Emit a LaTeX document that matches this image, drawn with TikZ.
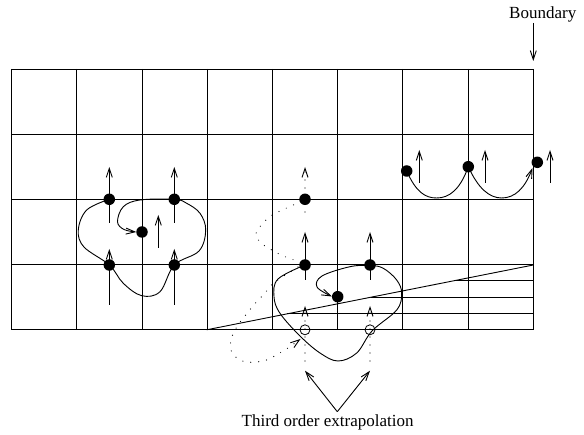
\documentclass[tikz,border=0pt]{standalone}
\usepackage{fontspec}
\setmainfont{Liberation Serif}
\usetikzlibrary{arrows.meta}
\tikzset{
  x=1pt, y=-1pt,
  ln/.style={line width=0.9pt},
  dotnode/.style={circle, fill=black, inner sep=0pt, minimum size=11.5pt},
  opennode/.style={circle, draw=black, line width=0.8pt, inner sep=0pt, minimum size=10pt},
  tip/.style={-{Straight Barb[length=9pt,width=6pt,line width=0.9pt]}},
  dotline/.style={line width=1.2pt, line cap=round, dash pattern=on 0pt off 8pt},
  lbl/.style={font=\fontsize{17}{20}\selectfont, inner sep=0pt},
}
\begin{document}
\begin{tikzpicture}
\useasboundingbox (0,0) rectangle (584,435);
% grid
\foreach \i in {0,...,8}{
  \draw[ln] ({11.7+65.2*\i},69) -- ({11.7+65.2*\i},329.8);
}
\foreach \j in {0,...,4}{
  \draw[ln] (11.7,{69+65.2*\j}) -- (533.3,{69+65.2*\j});
}
% boundary diagonal and refinement lines
\coordinate (dA) at (206.7,329.8);
\coordinate (dB) at (533.3,265);
\draw[ln] (dA) -- (dB);
\coordinate (h1) at (456,280.8);  \coordinate (h1e) at (533.3,280.8);
\coordinate (h2) at (370.5,297.3); \coordinate (h2e) at (533.3,297.3);
\coordinate (h3) at (287.3,313.8); \coordinate (h3e) at (533.3,313.8);
\draw[ln] (h1) -- (h1e);
\draw[ln] (h2) -- (h2e);
\draw[ln] (h3) -- (h3e);

% ---- left group ----
\node[dotnode] (L1) at (109.3,199.3) {};
\node[dotnode] (L2) at (174.3,199.3) {};
\node[dotnode] (L3) at (142,232) {};
\node[dotnode] (L4) at (109.3,265) {};
\node[dotnode] (L5) at (174.3,265) {};
\coordinate (la1s) at (109.3,223); \coordinate (la1e) at (109.3,167);
\coordinate (la2s) at (174.3,223); \coordinate (la2e) at (174.3,167);
\coordinate (la3s) at (158.3,248); \coordinate (la3e) at (158.3,215);
\coordinate (la4s) at (109.3,305); \coordinate (la4e) at (109.3,249);
\coordinate (la5s) at (174.3,305); \coordinate (la5e) at (174.3,249);
\foreach \a in {la1,la2,la3,la4,la5}{ \draw[ln,tip] (\a s) -- (\a e); }
\draw[ln,tip] plot[smooth, tension=0.6] coordinates {
 (109.3,199.3) (86.7,210) (78.3,230) (84,247) (109.3,265) (123.3,283.3)
 (141.7,295.7) (160,291.7) (174.3,265) (199,251) (205.7,230) (200,213.3)
 (186.7,203.3) (174.3,199.3) (140,200) (123.3,206.7) (117.5,221.7) (124,229.5) (136.3,232)};

% ---- middle group ----
\node[dotnode] (M1) at (305,199.3) {};
\node[dotnode] (M2) at (305,265) {};
\node[dotnode] (M3) at (370,265) {};
\node[dotnode] (M4) at (337.7,296.7) {};
\node[opennode] (O1) at (305,329.8) {};
\node[opennode] (O2) at (370,329.8) {};
\coordinate (ma1s) at (305,212); \coordinate (ma1e) at (305,167);
\coordinate (ma2s) at (305,280); \coordinate (ma2e) at (305,232);
\coordinate (ma3s) at (370,280); \coordinate (ma3e) at (370,232);
\coordinate (mb1s) at (305,361); \coordinate (mb1e) at (305,306);
\coordinate (mb2s) at (370,361); \coordinate (mb2e) at (370,306);
\draw[dotline,tip] (ma1s) -- (ma1e);
\draw[ln,tip] (ma2s) -- (ma2e);
\draw[ln,tip] (ma3s) -- (ma3e);
\draw[dotline,tip] (mb1s) -- (mb1e);
\draw[dotline,tip] (mb2s) -- (mb2e);
\draw[ln,tip] plot[smooth, tension=0.6] coordinates {
 (305,265) (278,279) (274,296.7) (280,313.3) (300,336) (320,353) (338,361)
 (356.7,353) (372,331) (396.7,310) (401.7,293.3) (396.7,280) (383.3,268.3)
 (370,265.5) (350,266.7) (322,276) (317,287) (332,296.5)};
\draw[dotline] plot[smooth, tension=0.6] coordinates {
 (301,202) (293.3,205) (270,216.7) (256,233.3) (261.7,243.3) (271.7,250) (283.3,256) (297,261)};
\draw[dotline,tip] plot[smooth, tension=0.6] coordinates {
 (298,267) (273.3,283.3) (265,293.3) (256.7,301.7) (241.7,320) (235,330) (230.7,341.7)
 (232.3,353.3) (241.7,360.7) (253.3,362.3) (266.7,360) (278,354) (288,348) (300.5,339)};

% ---- right group ----
\node[dotnode] (R1) at (406.7,171) {};
\node[dotnode] (R2) at (468.3,166.7) {};
\node[dotnode] (R3) at (537.3,162.3) {};
\coordinate (ra1s) at (419.3,182.7); \coordinate (ra1e) at (419.3,150);
\coordinate (ra2s) at (485,182.7); \coordinate (ra2e) at (485,150);
\coordinate (ra3s) at (550,182.7); \coordinate (ra3e) at (550,150);
\foreach \a in {ra1,ra2,ra3}{ \draw[ln,tip] (\a s) -- (\a e); }
\draw[ln] (R1.center) .. controls (416,192) and (425,198) .. (436.7,198)
  .. controls (449,198) and (460,190) .. (R2.center);
\draw[ln,tip] (R2.center) .. controls (478,188) and (489,198) .. (501.7,198)
  .. controls (515,198) and (525,188) .. (532.5,168);

% ---- labels ----
\node[lbl, anchor=base west] (bnd) at (509,19) {Boundary};
\coordinate (bs) at (533.3,23);
\coordinate (be) at (533.3,61);
\draw[ln,tip] (bs) -- (be);

\node[lbl, anchor=base west] (toe) at (241.5,427) {Third order extrapolation};
\coordinate (apex) at (337.3,411.7);
\coordinate (v1) at (305,370.7);
\coordinate (v2) at (370,370.7);
\draw[ln,tip] (apex) -- (v1);
\draw[ln,tip] (apex) -- (v2);
\end{tikzpicture}
\end{document}
